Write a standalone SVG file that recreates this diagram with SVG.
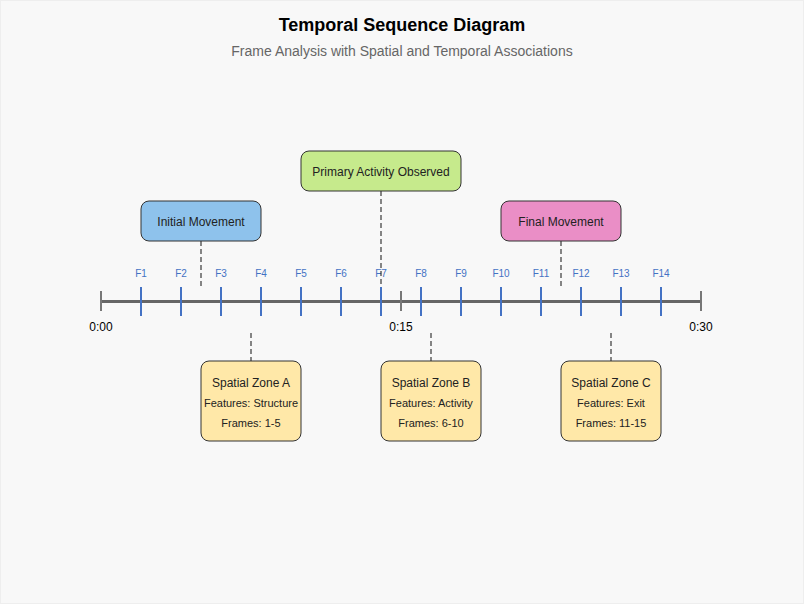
<svg xmlns="http://www.w3.org/2000/svg" width="804" height="604" viewBox="0 0 804 604">
<style>
text{font-family:"Liberation Sans",Arial,sans-serif;}
.title{font-size:18px;font-weight:bold;fill:#000;text-anchor:middle;}
.sub{font-size:14px;fill:#666;text-anchor:middle;}
.ev{stroke:#333;stroke-width:1;}
.lbl{font-size:12px;fill:#222;text-anchor:middle;dominant-baseline:central;}
.small{font-size:11px;fill:#222;text-anchor:middle;dominant-baseline:central;}
.fr{font-size:10px;fill:#4472C4;text-anchor:middle;}
.time{font-size:12px;fill:#000;text-anchor:middle;}
.ftick{stroke:#4472C4;stroke-width:2;}
.etick{stroke:#777;stroke-width:2;}
.dash{stroke:#111;stroke-width:1;stroke-dasharray:5,3;fill:none;}
</style>
<rect x="0.5" y="0.5" width="803" height="603" fill="#f8f8f8" stroke="#eeeeee"/>
<text class="title" x="402" y="31">Temporal Sequence Diagram</text>
<text class="sub" x="402" y="56">Frame Analysis with Spatial and Temporal Associations</text>

<g id="timeline">
<line x1="101" y1="301.5" x2="701" y2="301.5" stroke="#666" stroke-width="3"/>
<line class="etick" x1="101" y1="291" x2="101" y2="311"/>
<line class="etick" x1="401" y1="291" x2="401" y2="311"/>
<line class="etick" x1="701" y1="291" x2="701" y2="311"/>
<text class="time" x="101" y="331">0:00</text>
<text class="time" x="401" y="331">0:15</text>
<text class="time" x="701" y="331">0:30</text>
</g>

<g id="frames">
<line class="ftick" x1="141" y1="287" x2="141" y2="316"/><text class="fr" x="141" y="277">F1</text>
<line class="ftick" x1="181" y1="287" x2="181" y2="316"/><text class="fr" x="181" y="277">F2</text>
<line class="ftick" x1="221" y1="287" x2="221" y2="316"/><text class="fr" x="221" y="277">F3</text>
<line class="ftick" x1="261" y1="287" x2="261" y2="316"/><text class="fr" x="261" y="277">F4</text>
<line class="ftick" x1="301" y1="287" x2="301" y2="316"/><text class="fr" x="301" y="277">F5</text>
<line class="ftick" x1="341" y1="287" x2="341" y2="316"/><text class="fr" x="341" y="277">F6</text>
<line class="ftick" x1="381" y1="287" x2="381" y2="316"/><text class="fr" x="381" y="277">F7</text>
<line class="ftick" x1="421" y1="287" x2="421" y2="316"/><text class="fr" x="421" y="277">F8</text>
<line class="ftick" x1="461" y1="287" x2="461" y2="316"/><text class="fr" x="461" y="277">F9</text>
<line class="ftick" x1="501" y1="287" x2="501" y2="316"/><text class="fr" x="501" y="277">F10</text>
<line class="ftick" x1="541" y1="287" x2="541" y2="316"/><text class="fr" x="541" y="277">F11</text>
<line class="ftick" x1="581" y1="287" x2="581" y2="316"/><text class="fr" x="581" y="277">F12</text>
<line class="ftick" x1="621" y1="287" x2="621" y2="316"/><text class="fr" x="621" y="277">F13</text>
<line class="ftick" x1="661" y1="287" x2="661" y2="316"/><text class="fr" x="661" y="277">F14</text>
</g>

<g id="connectors">
<line class="dash" x1="201" y1="241" x2="201" y2="287"/>
<line class="dash" x1="381" y1="191" x2="381" y2="287"/>
<line class="dash" x1="561" y1="241" x2="561" y2="287"/>
<line class="dash" x1="251" y1="333" x2="251" y2="361"/>
<line class="dash" x1="431" y1="333" x2="431" y2="361"/>
<line class="dash" x1="611" y1="333" x2="611" y2="361"/>
</g>

<g id="initial-movement">
<rect class="ev" x="141" y="201" width="120" height="40" rx="8" fill="#8EC2EC"/>
<text class="lbl" x="201" y="222">Initial Movement</text>
</g>
<g id="primary-activity">
<rect class="ev" x="301" y="151" width="160" height="40" rx="8" fill="#C6EA8C"/>
<text class="lbl" x="381" y="172">Primary Activity Observed</text>
</g>
<g id="final-movement">
<rect class="ev" x="501" y="201" width="120" height="40" rx="8" fill="#EA8EC6"/>
<text class="lbl" x="561" y="222">Final Movement</text>
</g>

<g id="zone-a">
<rect class="ev" x="201" y="361" width="100" height="80" rx="8" fill="#FFE8A8"/>
<text class="lbl" x="251" y="383">Spatial Zone A</text>
<text class="small" x="251" y="403">Features: Structure</text>
<text class="small" x="251" y="423">Frames: 1-5</text>
</g>
<g id="zone-b">
<rect class="ev" x="381" y="361" width="100" height="80" rx="8" fill="#FFE8A8"/>
<text class="lbl" x="431" y="383">Spatial Zone B</text>
<text class="small" x="431" y="403">Features: Activity</text>
<text class="small" x="431" y="423">Frames: 6-10</text>
</g>
<g id="zone-c">
<rect class="ev" x="561" y="361" width="100" height="80" rx="8" fill="#FFE8A8"/>
<text class="lbl" x="611" y="383">Spatial Zone C</text>
<text class="small" x="611" y="403">Features: Exit</text>
<text class="small" x="611" y="423">Frames: 11-15</text>
</g>
</svg>
